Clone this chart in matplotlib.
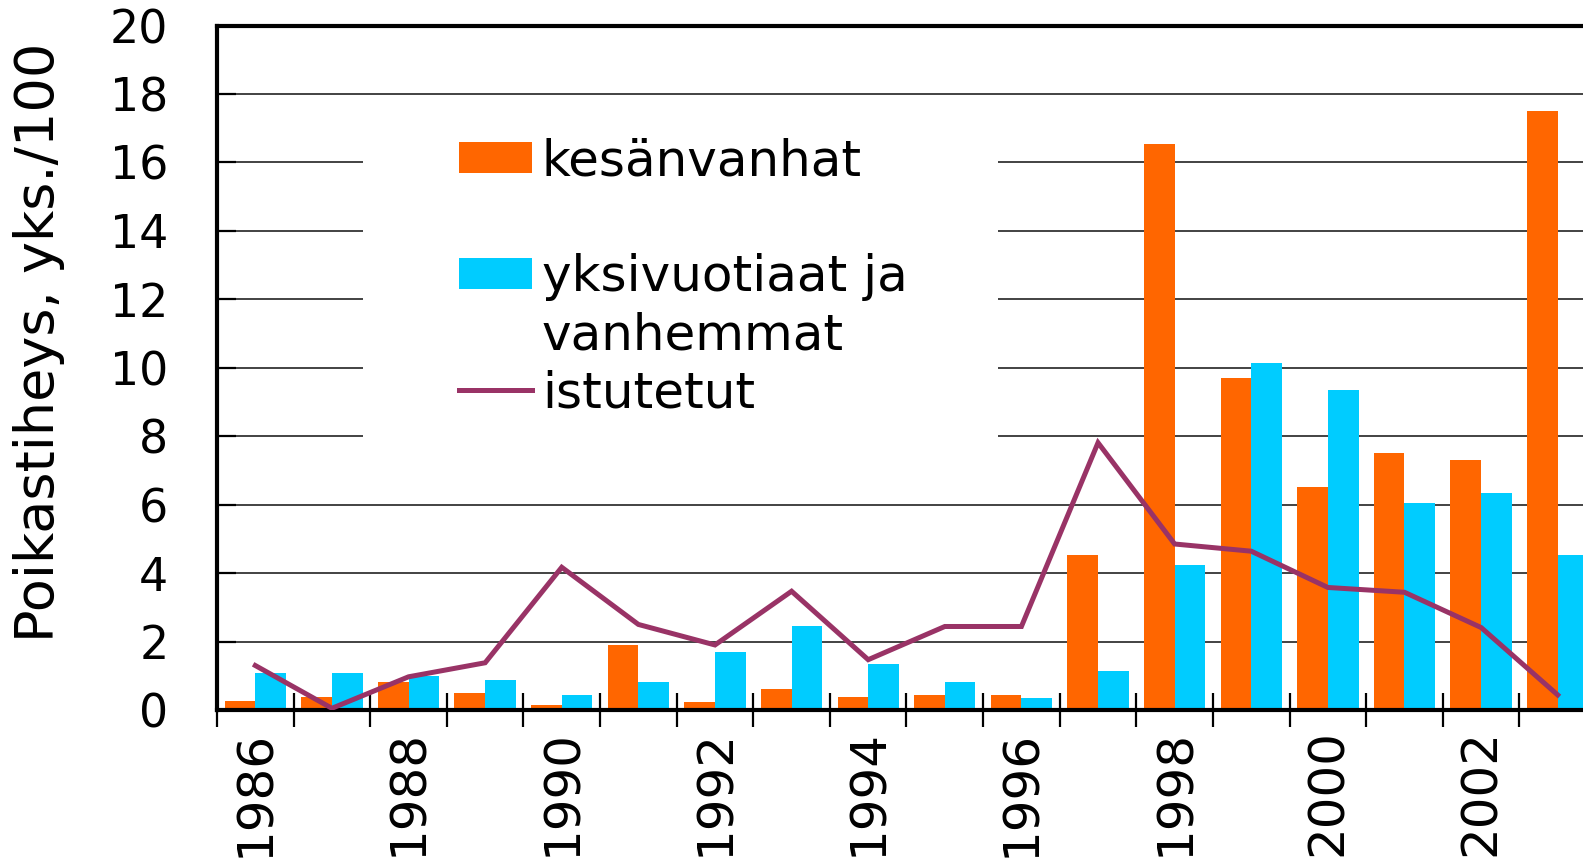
import numpy as np
import matplotlib
matplotlib.use("Agg")
import matplotlib.pyplot as plt
from matplotlib.patches import Patch, Rectangle
from matplotlib.lines import Line2D

# Data
years = list(range(1986, 2004))
kesanvanhat = [0.25, 0.38, 0.82, 0.5, 0.15, 1.91, 0.23, 0.62, 0.38, 0.44,
               0.44, 4.52, 16.55, 9.69, 6.52, 7.52, 7.31, 17.5]
yksivuotiaat = [1.09, 1.09, 1.0, 0.88, 0.44, 0.82, 1.7, 2.44, 1.35, 0.82,
                0.34, 1.13, 4.23, 10.13, 9.34, 6.05, 6.34, 4.52]
istutetut = [1.3, 0.05, 0.97, 1.38, 4.17, 2.5, 1.9, 3.47, 1.47, 2.44,
             2.44, 7.81, 4.85, 4.64, 3.58, 3.44, 2.41, 0.44]
legend_labels = ["kesänvanhat", "", "yksivuotiaat ja", "vanhemmat", "istutetut"]
y_label = "Poikastiheys, yks./100"
y_ticks = list(range(0, 21, 2))

orange = "#FF6600"
blue = "#00CCFF"
plum = "#993366"

W, H = 1583, 861
fig = plt.figure(figsize=(W / 100, H / 100), dpi=100)

# axes run a little past the right edge, like the cropped original
left, right, top, bottom = 217, 1596, 25.5, 710
ax = fig.add_axes([left / W, 1 - bottom / H, (right - left) / W, (bottom - top) / H])

x = np.arange(len(years))
bw = 0.4
ax.bar(x - bw / 2, kesanvanhat, width=bw, color=orange, zorder=2)
ax.bar(x + bw / 2, yksivuotiaat, width=bw, color=blue, zorder=2)
ax.plot(x, istutetut, color=plum, lw=3.6, zorder=3, solid_joinstyle="miter")

ax.set_xlim(-0.5, len(years) - 0.5)
ax.set_ylim(0, 20)

# y axis
ax.set_yticks(y_ticks)
ax.set_yticklabels([str(t) for t in y_ticks])
ax.tick_params(axis="y", direction="in", length=14, width=1.6, labelsize=33, pad=35)
ax.set_axisbelow(True)
ax.yaxis.grid(True, color="#222222", lw=1.2)

# x axis: tick marks between categories, labels on even years
ax.set_xticks(np.arange(len(years) + 1) - 0.5)
ax.set_xticklabels([])
ax.tick_params(axis="x", which="major", direction="inout", length=25, width=1.6)
even = [i for i, yr in enumerate(years) if yr % 2 == 0]
ax.set_xticks(even, minor=True)
ax.set_xticklabels([str(years[i]) for i in even], minor=True, rotation=90)
ax.tick_params(axis="x", which="minor", length=0, labelsize=36, pad=14)

for s in ["left", "top", "bottom"]:
    ax.spines[s].set_linewidth(3)
ax.spines["right"].set_visible(False)

# white legend area over the gridlines
ax.add_patch(Rectangle((0.106, 0.35), 0.46, 0.525, transform=ax.transAxes,
                       facecolor="white", edgecolor="none", zorder=1))

handles = [Patch(facecolor=orange), Patch(visible=False), Patch(facecolor=blue),
           Patch(visible=False), Line2D([], [], color=plum, lw=3.6)]
leg = ax.legend(handles, legend_labels, loc="upper left",
                bbox_to_anchor=(459 / W, 1 - 137 / H), bbox_transform=fig.transFigure,
                frameon=False, fontsize=36, borderpad=0, borderaxespad=0,
                handlelength=1.46, handleheight=0.6, handletextpad=0.2,
                labelspacing=0.2)

# y label
fig.text(54 / W, 1 - 642 / H, y_label, rotation=90, rotation_mode="anchor",
         ha="left", va="baseline", fontsize=39)

fig.savefig("out.png", dpi=100)
